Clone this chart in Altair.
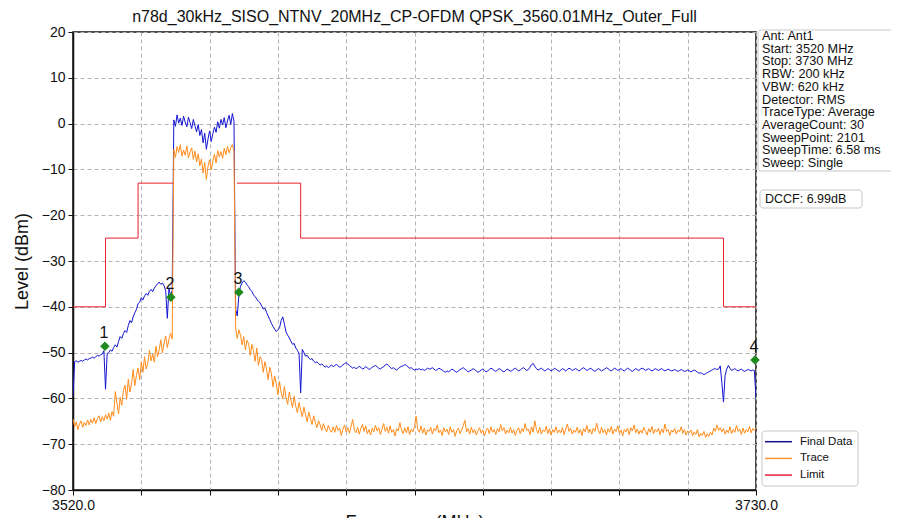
import altair as alt
import pandas as pd

# ---------------- data ----------------
TITLE = "n78d_30kHz_SISO_NTNV_20MHz_CP-OFDM QPSK_3560.01MHz_Outer_Full"
SEG_STARTS = [3520.0, 3551.0, 3570.0, 3600.0]   # MHz, start of each sweep block
STEP = 0.5                                       # MHz between stored points

final_a = [-59.5, -52.0, -51.8, -52.1, -51.9, -51.7, -51.9, -51.6, -51.4, -51.6,
           -51.3, -51.2, -51.0, -51.2, -50.9, -50.6, -50.8, -50.5, -50.3, -49.6,
           -58.0, -50.2, -50.0, -49.4, -49.7, -48.9, -48.3, -48.8, -47.6, -46.5,
           -46.9, -45.8, -45.2, -45.6, -44.1, -43.0, -43.5, -42.2, -41.3, -40.6,
           -39.3, -39.0, -38.0, -38.5, -37.6, -37.1, -37.5, -36.6, -36.2, -36.7,
           -35.9, -35.4, -35.0, -34.6, -35.1, -34.8, -35.4, -36.5, -42.5, -36.0,
           -37.5, -36.5]
final_b = [0.8, -0.6, 1.9, 0.1, 1.2, -0.4, 1.6, 0.3, -0.7, 1.4,
           0.2, -1.1, 0.9, -0.5, -1.8, -0.2, -2.6, -1.3, -4.2, -2.1,
           -5.6, -3.4, -1.6, -3.9, -2.2, -0.8, -1.9, 0.4, -1.0, 0.9,
           -0.3, 1.3, -0.9, 0.6, 1.8, -0.2, 2.2, 0.5]
final_c = [-40.5, -42.0, -37.5, -35.5, -34.8, -34.3, -34.6, -35.2, -35.6, -36.3,
           -36.6, -37.4, -37.8, -38.3, -38.8, -39.1, -39.8, -40.5, -40.3, -41.2,
           -42.0, -42.8, -43.6, -44.3, -44.9, -45.4, -45.0, -44.6, -43.0, -42.2,
           -43.8, -45.5, -46.2, -46.8, -47.5, -48.2, -48.0, -49.0, -49.5, -50.2,
           -58.8, -49.3, -50.0, -50.8, -50.6, -51.2, -51.5, -51.3, -51.9, -52.2,
           -52.0, -52.4, -52.7, -52.5, -52.8, -53.2, -52.9, -53.3, -53.0, -52.7]
final_d = [-53.1, -52.8, -52.6, -52.9, -53.2, -53.0, -52.7, -52.4, -52.2, -52.5,
           -52.8, -53.1, -53.4, -53.2, -53.5, -53.3, -53.0, -53.2, -53.6, -53.4,
           -53.1, -53.3, -53.7, -53.5, -53.2, -53.0, -52.8, -53.1, -53.4, -53.6,
           -53.3, -53.1, -52.7, -52.5, -52.8, -53.2, -53.5, -53.3, -53.6, -53.8,
           -53.5, -53.2, -53.0, -52.9, -52.6, -52.8, -53.1, -53.4, -53.3, -53.6,
           -53.8, -53.6, -53.7, -53.5, -53.8, -53.6, -53.9, -53.7, -53.4, -53.6,
           -53.5, -53.3, -53.6, -53.9, -53.7, -53.4, -53.6, -53.8, -54.1, -54.3,
           -54.0, -54.2, -53.9, -53.6, -53.8, -54.1, -54.3, -54.0, -53.7, -53.5,
           -53.3, -53.6, -53.9, -54.2, -54.0, -53.8, -53.5, -53.7, -54.0, -54.3,
           -54.1, -53.8, -53.6, -53.9, -54.2, -54.0, -53.7, -53.4, -53.6, -53.9,
           -54.1, -53.8, -53.5, -53.7, -54.0, -54.2, -53.9, -53.6, -53.8, -54.1,
           -53.9, -53.6, -53.4, -53.7, -54.0, -53.8, -53.5, -53.3, -53.6, -53.9,
           -53.7, -53.2, -52.6, -52.4, -53.0, -53.5, -53.8, -53.6, -53.4, -53.7,
           -54.0, -53.8, -53.5, -53.7, -54.0, -53.8, -53.4, -53.6, -53.9, -54.1,
           -53.8, -53.5, -53.7, -54.0, -53.7, -53.4, -53.6, -53.9, -53.7, -53.5,
           -53.7, -54.0, -53.8, -53.5, -53.3, -53.6, -53.9, -53.7, -53.4, -53.6,
           -53.9, -54.1, -53.8, -53.5, -53.7, -54.0, -53.8, -53.6, -53.3, -53.5,
           -53.8, -54.0, -53.7, -53.4, -53.6, -53.9, -53.7, -53.5, -53.8, -54.0,
           -53.7, -53.4, -53.6, -53.9, -54.1, -53.8, -53.5, -53.7, -53.9, -53.6,
           -53.4, -53.6, -53.9, -53.7, -53.5, -53.8, -54.0, -53.8, -53.5, -53.7,
           -53.9, -53.7, -53.5, -53.8, -54.0, -53.8, -53.6, -53.8, -54.0, -53.9,
           -53.7, -53.9, -54.1, -53.9, -53.7, -53.9, -54.1, -54.0, -53.8, -54.0,
           -54.2, -54.0, -53.8, -54.0, -54.3, -54.5, -54.4, -54.6, -54.8, -54.6,
           -54.4, -54.2, -54.0, -53.8, -53.6, -53.5, -53.7, -53.6, -52.9, -56.5,
           -60.8, -55.0, -53.6, -52.8, -53.4, -53.9, -53.7, -53.5, -53.8, -54.0,
           -53.8, -53.6, -53.9, -54.1, -53.9, -53.7, -53.8, -54.0, -53.8, -53.9,
           -60.0]

trace_a = [-64.5, -66.2, -65.1, -66.8, -65.6, -64.9, -66.3, -65.2, -65.9, -64.7,
           -65.8, -64.6, -65.4, -64.2, -65.5, -64.4, -63.8, -65.1, -64.0, -64.9,
           -63.6, -64.5, -63.2, -64.8, -62.9, -63.9, -58.5, -61.0, -63.4, -59.8,
           -61.5, -58.3, -57.1, -60.2, -55.8, -58.6, -56.9, -53.7, -57.2, -55.0,
           -53.4, -55.9, -52.1, -54.3, -50.9, -53.6, -52.2, -49.5, -51.8, -50.3,
           -52.1, -48.6, -50.9, -49.4, -47.2, -50.1, -48.0, -46.4, -48.9, -47.1,
           -45.8, -47.0]
trace_b = [-5.6, -7.4, -5.0, -6.3, -4.6, -7.1, -5.8, -6.9, -4.9, -7.5,
           -6.2, -5.3, -7.8, -6.0, -8.4, -6.6, -9.2, -7.7, -10.8, -8.5,
           -12.2, -9.4, -7.9, -10.1, -8.2, -6.7, -8.6, -5.9, -7.3, -6.1,
           -7.6, -5.4, -6.8, -5.0, -6.4, -5.3, -4.6, -6.0]
trace_c = [-44.6, -46.9, -45.0, -46.2, -48.3, -46.5, -49.4, -47.3, -48.1, -50.6,
           -48.2, -49.7, -51.9, -49.0, -52.8, -50.9, -51.5, -54.3, -52.0, -53.6,
           -55.9, -53.2, -54.6, -57.5, -55.1, -56.8, -59.2, -56.3, -58.7, -60.1,
           -57.4, -59.9, -61.3, -58.6, -60.4, -62.0, -59.5, -61.8, -63.1, -60.9,
           -62.5, -64.0, -61.9, -63.6, -65.1, -63.0, -64.4, -65.7, -63.8, -65.3,
           -66.4, -64.9, -65.8, -67.0, -65.5, -66.6, -67.3, -65.9, -66.8, -67.4]
trace_d = [-66.2, -67.4, -65.9, -67.0, -66.5, -68.1, -66.7, -65.8, -67.3, -66.4,
           -67.6, -66.1, -64.6, -66.9, -67.5, -66.3, -67.8, -66.6, -65.7, -67.2,
           -66.0, -67.7, -66.8, -68.0, -66.5, -67.3, -65.9, -67.1, -66.4, -67.9,
           -66.7, -65.5, -67.2, -66.3, -67.6, -66.0, -67.4, -66.8, -68.2, -66.6,
           -67.1, -65.3, -66.9, -67.7, -66.4, -67.5, -66.2, -67.9, -66.7, -67.3,
           -66.1, -63.9, -66.8, -67.4, -66.0, -67.6, -66.5, -68.0, -66.9, -67.2,
           -66.3, -67.8, -66.6, -67.1, -65.8, -67.5, -66.9, -68.1, -66.4, -67.3,
           -66.7, -67.9, -66.2, -67.4, -66.8, -68.3, -67.0, -66.5, -67.7, -66.9,
           -65.9, -64.8, -67.3, -66.6, -67.8, -66.3, -67.5, -66.8, -68.0, -67.1,
           -66.4, -67.6, -66.9, -68.2, -67.0, -66.5, -67.7, -66.2, -67.4, -66.8,
           -67.9, -66.6, -67.3, -65.7, -67.1, -66.4, -67.8, -66.9, -67.5, -66.3,
           -67.6, -66.8, -68.1, -67.0, -66.4, -67.7, -66.6, -67.3, -65.5, -67.0,
           -66.7, -67.9, -66.2, -67.4, -64.9, -66.8, -67.6, -66.3, -67.8, -66.9,
           -67.3, -66.1, -67.7, -66.6, -68.0, -66.8, -67.4, -66.2, -67.6, -66.9,
           -67.5, -66.4, -67.9, -66.7, -65.6, -67.2, -66.5, -67.8, -66.9, -67.4,
           -66.3, -67.6, -66.8, -68.1, -66.6, -67.3, -65.9, -67.5, -66.7, -67.8,
           -66.5, -67.2, -65.4, -66.9, -67.7, -66.3, -67.5, -66.8, -68.0, -66.6,
           -67.4, -66.1, -67.8, -66.7, -67.2, -66.0, -67.6, -66.9, -68.2, -66.8,
           -67.3, -66.5, -67.9, -66.4, -67.1, -65.8, -67.5, -66.7, -67.8, -66.9,
           -67.6, -66.3, -67.2, -68.0, -66.6, -67.4, -66.1, -67.7, -66.8, -67.3,
           -66.5, -67.9, -66.7, -67.5, -65.6, -67.2, -66.8, -68.1, -66.9, -67.4,
           -66.6, -67.8, -66.9, -67.3, -66.2, -67.6, -66.8, -68.0, -67.1, -67.5,
           -66.9, -68.2, -67.3, -67.9, -66.8, -68.4, -67.6, -68.1, -67.2, -68.5,
           -67.7, -68.3, -67.4, -68.0, -66.5, -67.2, -65.8, -67.0, -66.4, -67.3,
           -66.6, -67.8, -66.9, -67.5, -66.2, -67.7, -66.8, -67.4, -65.9, -67.2,
           -66.7, -67.9, -66.5, -67.6, -66.8, -67.3, -66.1, -67.5, -66.6, -67.0,
           -66.4]

limit_freq = [[3520, 3530, 3530, 3540, 3540, 3550.8],
              [3570.4, 3590, 3590, 3720, 3720, 3730]]
limit_level = [[-40, -40, -25, -25, -13, -13],
               [-13, -13, -25, -25, -40, -40]]

marker_label = ["1", "2", "3", "4"]
marker_freq = [3529.8, 3550.1, 3571.0, 3729.7]
marker_level = [-48.6, -37.9, -36.8, -51.6]

series_names = ["Final Data", "Trace", "Limit"]
series_colors = ["#1414d2", "#ff8c1a", "#e8202a"]
legend_colors = ["#10108c", "#ff9a30", "#e8203c"]

x_ticks = [3520, 3541, 3562, 3583, 3604, 3625, 3646, 3667, 3688, 3709, 3730]
y_ticks = [-80, -70, -60, -50, -40, -30, -20, -10, 0, 10, 20]

info_lines = ["Ant: Ant1", "Start: 3520 MHz", "Stop: 3730 MHz", "RBW: 200 kHz",
              "VBW: 620 kHz", "Detector: RMS", "TraceType: Average",
              "AverageCount: 30", "SweepPoint: 2101", "SweepTime: 6.58 ms",
              "Sweep: Single"]
dccf_text = "DCCF: 6.99dB"

# ---------------- table ----------------
rows = []
idx = 0
for name, segs in (("Final Data", [final_a, final_b, final_c, final_d]),
                   ("Trace", [trace_a, trace_b, trace_c, trace_d])):
    for start, vals in zip(SEG_STARTS, segs):
        for k, v in enumerate(vals):
            rows.append({"freq": start + STEP * k, "level": v, "series": name,
                         "part": 0, "idx": idx})
            idx += 1
for j, (fs, ls) in enumerate(zip(limit_freq, limit_level)):
    for f, l in zip(fs, ls):
        rows.append({"freq": f, "level": l, "series": "Limit", "part": j, "idx": idx})
        idx += 1
df = pd.DataFrame(rows)
mk = pd.DataFrame({"freq": marker_freq, "level": marker_level, "label": marker_label})
one = pd.DataFrame({"a": [0]})

FONT = "Liberation Sans"
W, H = 683, 458
L, T = 65, 24   # plot origin inside svg
OX, OY = 73, 32  # page position of the plot origin (for annotation boxes)

x_enc = alt.X("freq:Q",
              scale=alt.Scale(domain=[3520, 3730], nice=False, zero=False),
              axis=alt.Axis(values=x_ticks,
                            labelExpr="datum.value == 3520 || datum.value == 3730 ? format(datum.value, '.1f') : ''",
                            labelFlush=False,
                            title="Frequency (MHz)", titleFontSize=18, titleFontWeight="normal",
                            titleBaseline="top", titleY=23, titleColor="#111",
                            labelFontSize=14, labelPadding=3, tickSize=5,
                            grid=True))
y_enc = alt.Y("level:Q",
              scale=alt.Scale(domain=[-80, 20], nice=False, zero=False),
              axis=alt.Axis(values=y_ticks, title="Level (dBm)", titleFontSize=18,
                            titleFontWeight="normal", titleColor="#111",
                            titleX=-51, titleY=229, titleAlign="center", titleBaseline="middle",
                            titleAngle=-90, labelFlush=False,
                            labelFontSize=14, labelPadding=3, tickSize=5, grid=True))

lines = alt.Chart(df).mark_line(strokeWidth=1, clip=True).encode(
    x=x_enc, y=y_enc,
    color=alt.Color("series:N",
                    scale=alt.Scale(domain=series_names, range=series_colors),
                    legend=None),
    detail="part:N",
    order="idx:Q",
)

markers = alt.Chart(mk).mark_point(shape="diamond", filled=True, size=90,
                                   color="#1f8a1f", opacity=1).encode(
    x="freq:Q", y="level:Q")
marker_text = alt.Chart(mk).mark_text(fontSize=16, font=FONT, color="#111",
                                      dy=-13, dx=-1).encode(
    x="freq:Q", y="level:Q", text="label:N")

def box(x1, x2, y1, y2):
    return alt.Chart(one).mark_rect(fill="white", stroke="#c8c8c8", strokeWidth=1,
                                    cornerRadius=3).encode(
        x=alt.value(x1 - OX), x2=alt.value(x2 - OX),
        y=alt.value(y1 - OY), y2=alt.value(y2 - OY))

info_box = box(758, 896, 30, 171)
info_text = alt.Chart(one).mark_text(align="left", baseline="middle", fontSize=12.7,
                                     font=FONT, lineHeight=12.7, color="#111").encode(
    x=alt.value(762 - OX), y=alt.value(36 - OY), text=alt.value(info_lines))
dccf_box = box(760, 862, 190, 208)
dccf = alt.Chart(one).mark_text(align="left", baseline="middle", fontSize=12.5,
                                font=FONT, color="#111").encode(
    x=alt.value(765 - OX), y=alt.value(199 - OY), text=alt.value(dccf_text))

# legend (drawn as a small boxed key)
legend_layers = [box(762, 858, 431, 486)]
for i, (name, col) in enumerate(zip(series_names, legend_colors)):
    yy = 441.7 + 16.7 * i - OY
    legend_layers.append(alt.Chart(one).mark_rule(color=col, strokeWidth=1.5).encode(
        x=alt.value(765 - OX), x2=alt.value(792 - OX), y=alt.value(yy)))
    legend_layers.append(alt.Chart(one).mark_text(align="left", baseline="middle",
                                                  fontSize=11.5, font=FONT, color="#111").encode(
        x=alt.value(800 - OX), y=alt.value(yy), text=alt.value(name)))

chart = alt.layer(lines, markers, marker_text, info_box, info_text, dccf_box, dccf,
                  *legend_layers).properties(
    width=W, height=H,
    title=alt.Title(TITLE, fontSize=16, font=FONT, fontWeight="normal", color="#111",
                    anchor="middle", offset=0),
    autosize=alt.AutoSizeParams(type="none"),
    padding={"left": L, "top": T, "right": 135, "bottom": 40},
).configure(font=FONT).configure_axis(
    labelFont=FONT, titleFont=FONT, labelColor="#111",
    domainColor="#111", domainWidth=1.5, tickColor="#111", tickWidth=1,
    gridColor="#b4b4b4", gridDash=[4, 3], gridWidth=1,
).configure_view(stroke="#111", strokeWidth=1.5)

chart.save("out.html", embed_options={"renderer": "svg", "actions": False})
